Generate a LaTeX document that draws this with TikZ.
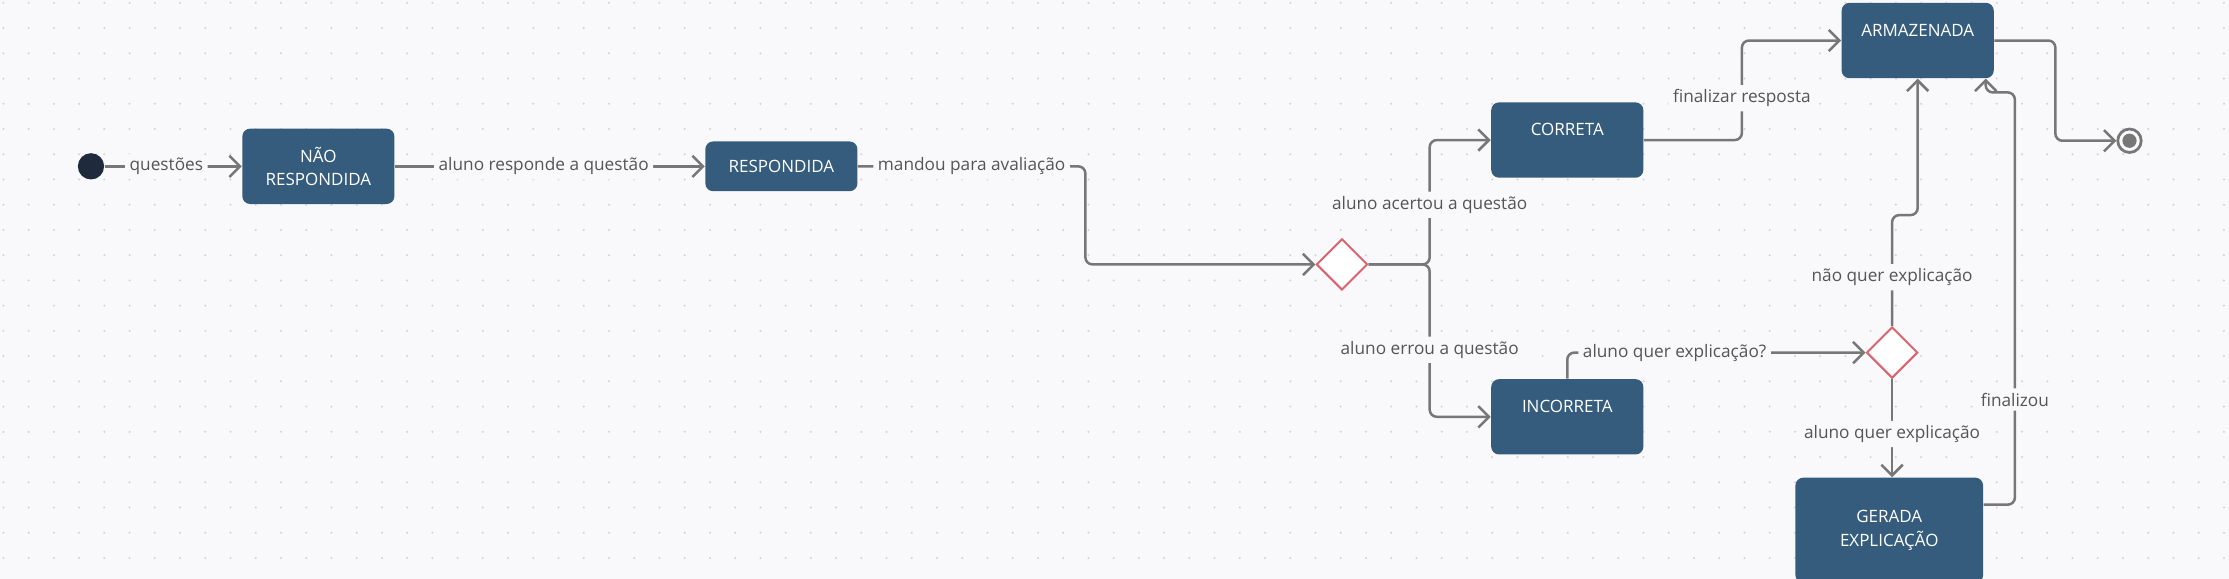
\documentclass[tikz,border=0pt]{standalone}
\usepackage{fontspec}
\setmainfont{Open Sans}
\usetikzlibrary{positioning,arrows.meta,shapes.geometric}
\definecolor{bgcol}{HTML}{F9F9FB}
\definecolor{gridcol}{HTML}{D2D2DA}
\definecolor{statecol}{HTML}{355C7D}
\definecolor{linecol}{HTML}{777777}
\definecolor{txtcol}{HTML}{555555}
\definecolor{decisioncol}{HTML}{D9636E}
\definecolor{initcol}{HTML}{1F2A3C}
\tikzstyle{sbox}=[rectangle, rounded corners=1.1mm, fill=statecol, text=white,
                  minimum width=21.4mm, minimum height=10.6mm, inner sep=1pt,
                  align=center, font=\fontsize{6.8}{9.4}\selectfont]
\tikzstyle{tbox}=[sbox, text depth=8.4pt]
\tikzstyle{decision}=[diamond, draw=decisioncol, fill=white, line width=0.8pt,
                  minimum size=7.2mm, inner sep=0pt]
\tikzstyle{initdot}=[circle, fill=initcol, minimum size=3.7mm, inner sep=0pt]
\tikzstyle{enddot}=[circle, draw=linecol, line width=1.1pt, fill=bgcol,
                  minimum size=3.3mm, inner sep=0pt,
                  path picture={\fill[linecol] (path picture bounding box.center) circle (1mm);}]
\tikzstyle{pline}=[-{Straight Barb[length=1.5mm,width=3mm]}, draw=linecol,
                  line width=1pt, rounded corners=1mm]
\tikzstyle{lbl}=[fill=bgcol, text=txtcol, inner sep=1.8pt,
                  font=\fontsize{6.9}{8}\selectfont]
\begin{document}
\begin{tikzpicture}[x=0.2mm, y=-0.2mm, node distance=0mm]

\fill[bgcol] (0,0) rectangle (1568,407);
\foreach \i in {0,...,88}
  \foreach \j in {0,...,22}
    \fill[gridcol] (2.4+17.75*\i,2+17.75*\j) circle (0.45pt);
\useasboundingbox (0,0) rectangle (1568,407);

\node (START) [initdot] at (64,117) {};
\node (NR) [sbox, right=19.3mm of START] {NÃO\\RESPONDIDA};
 \draw[pline] (START) -- node[lbl,pos=0.45]{questões} (NR);
\node (RESP) [sbox, minimum height=7mm, right=43.6mm of NR] {RESPONDIDA};
 \draw[pline] (NR) -- node[lbl,pos=0.48]{aluno responde a questão} (RESP);
\node (AVAL) [decision] at (944,186) {};
 \draw[pline] (RESP.east) -- node[lbl]{mandou para avaliação} ++(160,0) |- (AVAL.west);
\node (CORR) [tbox] at (1102.5,98.5) {CORRETA};
 \draw[pline] (AVAL.east) -- ++(43,0) |- node[lbl,pos=0.24]{aluno acertou a questão} (CORR.west);
\node (INCORR) [tbox, below=28.2mm of CORR] {INCORRETA};
 \draw[pline] (AVAL.east) -- ++(43,0) |- node[lbl,pos=0.28]{aluno errou a questão} (INCORR.west);
\node (ARMZ) [tbox] at (1349,28.5) {ARMAZENADA};
 \draw[pline] (CORR.east) -- ++(69,0) |- node[lbl,pos=0.21]{finalizar resposta} (ARMZ.west);
\node (FIM) [enddot] at (1498,99) {};
 \draw[pline] (ARMZ.east) -- ++(43,0) |- (FIM.west);
\node (EXPL) [decision] at (1331,248) {};
 \draw[pline] (INCORR.north) |- node[lbl,pos=0.68]{aluno quer explicação?} (EXPL.west);
 \draw[pline] (EXPL.north) -- node[lbl,pos=0.44]{não quer explicação} ++(0,-78) -| (ARMZ.south);
\node (GER) [sbox, minimum width=26.4mm, minimum height=14.8mm] at (1329,373) {GERADA\\EXPLICAÇÃO};
 \draw[pline] (EXPL.south) -- node[lbl,pos=0.56]{aluno quer explicação} (EXPL.south |- GER.north);
 \draw[pline] ([yshift=3.6mm]GER.east) -- ++(22,0) -- node[lbl,pos=0.255]{finalizou} ++(0,-290)
   -| ([xshift=-1.2mm]ARMZ.south east);

\end{tikzpicture}
\end{document}
